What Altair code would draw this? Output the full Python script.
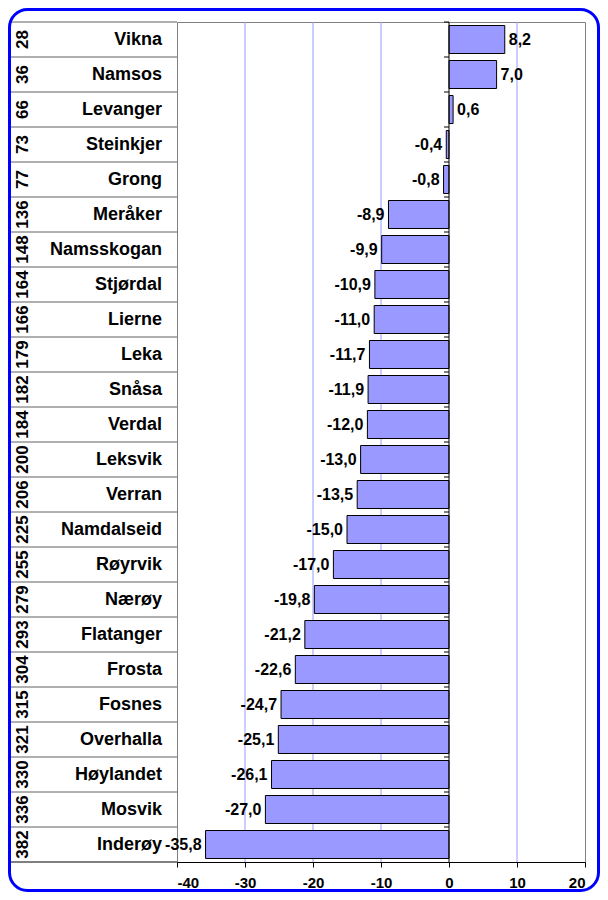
import altair as alt
import pandas as pd

names = ["Vikna", "Namsos", "Levanger", "Steinkjer", "Grong", "Meråker", "Namsskogan",
         "Stjørdal", "Lierne", "Leka", "Snåsa", "Verdal", "Leksvik", "Verran", "Namdalseid",
         "Røyrvik", "Nærøy", "Flatanger", "Frosta", "Fosnes", "Overhalla", "Høylandet",
         "Mosvik", "Inderøy"]
ranks = [28, 36, 66, 73, 77, 136, 148, 164, 166, 179, 182, 184, 200, 206, 225, 255, 279,
         293, 304, 315, 321, 330, 336, 382]
values = [8.2, 7.0, 0.6, -0.4, -0.8, -8.9, -9.9, -10.9, -11.0, -11.7, -11.9, -12.0, -13.0,
          -13.5, -15.0, -17.0, -19.8, -21.2, -22.6, -24.7, -25.1, -26.1, -27.0, -35.8]
x_ticks = [-40, -30, -20, -10, 0, 10, 20]
grid_values = [-30, -20, -10, 10]

df = pd.DataFrame({"name": names, "rank": [str(r) for r in ranks], "value": values})
df["label"] = [f"{v:.1f}".replace(".", ",") for v in values]
df["last"] = [i == len(names) - 1 for i in range(len(names))]

FONT = "Liberation Sans"
W, H = 408, 840
PAD_L, PAD_T, PAD_R, PAD_B = 169, 14, 15, 30

yscale = alt.Scale(domain=names, paddingInner=0.2, paddingOuter=0.1)
xscale = alt.Scale(domain=[-40, 20], nice=False, zero=False)

base = alt.Chart(df)
Y = alt.Y("name:N", scale=yscale, sort=names, axis=None)

grid = alt.Chart(pd.DataFrame({"g": grid_values})).mark_rule(
    color="#9999FF", strokeWidth=1
).encode(x=alt.X("g:Q", scale=xscale))

bars = base.mark_bar(color="#9999FF", stroke="black", strokeWidth=1).encode(
    x=alt.X("value:Q", scale=xscale,
            axis=alt.Axis(values=x_ticks, grid=False, title=None,
                          labelExpr="'' + datum.value",
                          labelFont=FONT, labelFontSize=15, labelFontWeight="bold",
                          labelColor="black", tickColor="black", domainColor="black",
                          tickSize=5, labelPadding=8)),
    y=Y,
)

zero = alt.Chart(pd.DataFrame({"z": [0]})).mark_rule(color="black", strokeWidth=1).encode(
    x=alt.X("z:Q", scale=xscale)
)

cat_ticks = base.mark_rule(color="black", strokeWidth=1, xOffset=-5, yOffset=-3.5).encode(
    x=alt.datum(0), x2=alt.datum(0),
    y=alt.Y("name:N", scale=yscale, sort=names, axis=None, bandPosition=0),
)

row_lines = base.mark_rule(color="#606060", strokeWidth=1, yOffset=-3.5).encode(
    x=alt.value(-PAD_L + 1), x2=alt.value(0),
    y=alt.Y("name:N", scale=yscale, sort=names, axis=None, bandPosition=0),
)
bottom_line = base.transform_filter("datum.last").mark_rule(
    color="black", strokeWidth=1, yOffset=3.5
).encode(
    x=alt.value(-PAD_L + 1), x2=alt.value(0),
    y=alt.Y("name:N", scale=yscale, sort=names, axis=None, bandPosition=1),
)

name_text = base.mark_text(align="right", baseline="middle", font=FONT, fontSize=18,
                           fontWeight="bold", color="black").encode(
    x=alt.value(-15), y=Y, text="name:N"
)
rank_text = base.mark_text(align="center", baseline="middle", angle=270, font=FONT,
                           fontSize=17, fontWeight="bold", color="black").encode(
    x=alt.value(-154), y=Y, text="rank:N"
)

pos_lab = base.transform_filter("datum.value >= 0").mark_text(
    align="left", baseline="middle", dx=4, font=FONT, fontSize=16, fontWeight="bold",
    color="black"
).encode(x=alt.X("value:Q", scale=xscale), y=Y, text="label:N")
neg_lab = base.transform_filter("datum.value < 0").mark_text(
    align="right", baseline="middle", dx=-4, font=FONT, fontSize=16, fontWeight="bold",
    color="black"
).encode(x=alt.X("value:Q", scale=xscale), y=Y, text="label:N")

border = alt.Chart(pd.DataFrame({"b": [1]})).mark_rect(
    fill=None, filled=False, stroke="#0000FF", strokeWidth=3, cornerRadius=18
).encode(
    x=alt.value(-PAD_L + 1.5), x2=alt.value(W + PAD_R - 1.5),
    y=alt.value(-PAD_T + 1.5), y2=alt.value(H + PAD_B - 1.5),
)

chart = alt.layer(
    grid, bars, zero, cat_ticks, row_lines, bottom_line, name_text, rank_text,
    pos_lab, neg_lab, border
).properties(
    width=W, height=H,
    autosize=alt.AutoSizeParams(type="none"),
    padding={"left": PAD_L, "top": PAD_T, "right": PAD_R, "bottom": PAD_B},
).configure_view(stroke="#808080", strokeWidth=1)

chart.save("out.html", embed_options={"renderer": "svg", "actions": False})
